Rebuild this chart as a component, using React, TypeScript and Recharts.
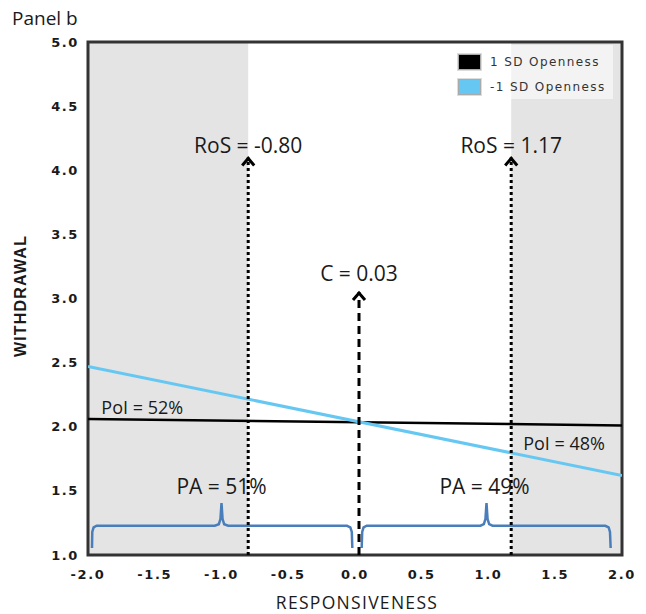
import React from "react";
import {
  ComposedChart,
  Line,
  XAxis,
  YAxis,
  ReferenceArea,
  ReferenceLine,
  ReferenceDot,
  Legend,
} from "recharts";

// ---- data ----
const xTicks = [-2.0, -1.5, -1.0, -0.5, 0.0, 0.5, 1.0, 1.5, 2.0];
const yTicks = [1.0, 1.5, 2.0, 2.5, 3.0, 3.5, 4.0, 4.5, 5.0];

const seriesNames = ["1 SD Openness", "-1 SD Openness"];
const seriesColors = ["#000000", "#66c8f2"];

const highOpenness = [
  { x: -2.0, y: 2.06 },
  { x: 2.0, y: 2.01 },
];
const lowOpenness = [
  { x: -2.0, y: 2.47 },
  { x: 2.0, y: 1.62 },
];

const rosLow = -0.8;
const rosHigh = 1.17;
const crossover = 0.03;
const rosTop = 4.1;
const crossTop = 3.05;

const braceLeft = [
  { x: -1.97, y: 1.055 },
  { x: -1.968, y: 1.18 },
  { x: -1.958, y: 1.215 },
  { x: -1.935, y: 1.228 },
  { x: -1.05, y: 1.228 },
  { x: -1.02, y: 1.24 },
  { x: -1.008, y: 1.28 },
  { x: -1.0, y: 1.405 },
  { x: -0.992, y: 1.28 },
  { x: -0.98, y: 1.24 },
  { x: -0.95, y: 1.228 },
  { x: -0.06, y: 1.228 },
  { x: -0.035, y: 1.215 },
  { x: -0.024, y: 1.18 },
  { x: -0.02, y: 1.055 },
];
const braceRight = [
  { x: 0.05, y: 1.055 },
  { x: 0.054, y: 1.18 },
  { x: 0.064, y: 1.215 },
  { x: 0.088, y: 1.228 },
  { x: 0.94, y: 1.228 },
  { x: 0.965, y: 1.24 },
  { x: 0.977, y: 1.28 },
  { x: 0.985, y: 1.405 },
  { x: 0.993, y: 1.28 },
  { x: 1.005, y: 1.24 },
  { x: 1.03, y: 1.228 },
  { x: 1.875, y: 1.228 },
  { x: 1.9, y: 1.215 },
  { x: 1.91, y: 1.18 },
  { x: 1.915, y: 1.055 },
];

const bigLabels = [
  { x: rosLow, y: 4.2, text: "RoS = -0.80" },
  { x: rosHigh, y: 4.2, text: "RoS = 1.17" },
  { x: crossover, y: 3.2, text: "C = 0.03" },
  { x: -1.0, y: 1.54, text: "PA = 51%" },
  { x: 0.97, y: 1.54, text: "PA = 49%" },
];
const poiLabels = [
  { x: -1.9, y: 2.155, text: "PoI = 52%" },
  { x: 1.26, y: 1.875, text: "PoI = 48%" },
];

const LABEL_FONT = "'Open Sans', 'Noto Sans', sans-serif";
const TICK_FONT = "'DejaVu Sans', Verdana, sans-serif";

const makeText =
  (text: string, size: number, anchor: "middle" | "start") =>
  (props: any) =>
    (
      <text
        x={props.cx}
        y={props.cy}
        textAnchor={anchor}
        dominantBaseline="central"
        fontFamily={LABEL_FONT}
        fontSize={size}
        fill="#1a1a1a"
      >
        {text}
      </text>
    );

const arrowHead = (props: any) => (
  <path
    d={`M${props.cx - 6},${props.cy + 8} L${props.cx},${props.cy + 1} L${props.cx + 6},${props.cy + 8}`}
    fill="none"
    stroke="#000"
    strokeWidth={3}
  />
);

const LegendBox = () => (
  <div
    style={{
      width: 160,
      height: 54,
      background: "rgba(255,255,255,0.55)",
      boxSizing: "border-box",
      paddingTop: 6,
      paddingLeft: 5,
    }}
  >
    {seriesNames.map((n, i) => (
      <div
        key={n}
        style={{ display: "flex", alignItems: "center", height: 22, marginBottom: 3 }}
      >
        <div
          style={{
            width: 21,
            height: 14,
            background: seriesColors[i],
            border: "1px solid #aaa",
            outline: "1px solid #ddd",
            marginRight: 9,
          }}
        />
        <span
          style={{
            fontFamily: TICK_FONT,
            fontSize: 12,
            letterSpacing: 1.4,
            color: "#333",
            whiteSpace: "nowrap",
          }}
        >
          {n}
        </span>
      </div>
    ))}
  </div>
);

const tickStyle = {
  fontFamily: TICK_FONT,
  fontSize: 13,
  fontWeight: "bold",
  fill: "#1a1a1a",
  letterSpacing: 1.6,
};

export default function App() {
  return (
    <div style={{ position: "fixed", left: 0, top: 0, width: 646, height: 614, background: "#fff" }}>
      <div
        style={{
          position: "absolute",
          left: 12,
          top: 5,
          fontFamily: LABEL_FONT,
          fontSize: 19,
          color: "#1a1a1a",
        }}
      >
        Panel b
      </div>
      <ComposedChart
        width={646}
        height={614}
        margin={{ top: 42, right: 24, bottom: 29, left: 48 }}
        style={{ position: "absolute", left: 0, top: 0 }}
      >
        <XAxis
          type="number"
          dataKey="x"
          domain={[-2, 2]}
          ticks={xTicks}
          allowDataOverflow
          tickFormatter={(v: number) => v.toFixed(1)}
          axisLine={false}
          tickLine={false}
          tickSize={6}
          tickMargin={9}
          height={30}
          tick={tickStyle}
        />
        <YAxis
          type="number"
          dataKey="y"
          domain={[1, 5]}
          ticks={yTicks}
          allowDataOverflow
          tickFormatter={(v: number) => v.toFixed(1)}
          axisLine={false}
          tickLine={false}
          tickSize={6}
          tickMargin={3}
          width={40}
          tick={tickStyle}
        />
        <ReferenceArea x1={-2} x2={rosLow} y1={1} y2={5} fill="#e4e4e4" fillOpacity={1} stroke="none" />
        <ReferenceArea x1={rosHigh} x2={2} y1={1} y2={5} fill="#e4e4e4" fillOpacity={1} stroke="none" />

        <Line
          data={highOpenness}
          dataKey="y"
          name={seriesNames[0]}
          stroke={seriesColors[0]}
          strokeWidth={2.5}
          dot={false}
          isAnimationActive={false}
        />
        <Line
          data={lowOpenness}
          dataKey="y"
          name={seriesNames[1]}
          stroke={seriesColors[1]}
          strokeWidth={3}
          dot={false}
          isAnimationActive={false}
        />
        <Line
          data={braceLeft}
          dataKey="y"
          stroke="#4a7ebb"
          strokeWidth={2.5}
          dot={false}
          legendType="none"
          isAnimationActive={false}
        />
        <Line
          data={braceRight}
          dataKey="y"
          stroke="#4a7ebb"
          strokeWidth={2.5}
          dot={false}
          legendType="none"
          isAnimationActive={false}
        />

        <ReferenceLine
          segment={[{ x: rosLow, y: 1 }, { x: rosLow, y: rosTop }]}
          stroke="#000"
          strokeWidth={3}
          strokeDasharray="3 3"
        />
        <ReferenceLine
          segment={[{ x: rosHigh, y: 1 }, { x: rosHigh, y: rosTop }]}
          stroke="#000"
          strokeWidth={3}
          strokeDasharray="3 3"
        />
        <ReferenceLine
          segment={[{ x: crossover, y: 1 }, { x: crossover, y: crossTop }]}
          stroke="#000"
          strokeWidth={3}
          strokeDasharray="8 5"
        />
        <ReferenceDot x={rosLow} y={rosTop} shape={arrowHead} />
        <ReferenceDot x={rosHigh} y={rosTop} shape={arrowHead} />
        <ReferenceDot x={crossover} y={crossTop} shape={arrowHead} />

        {bigLabels.map((l) => (
          <ReferenceDot key={l.text} x={l.x} y={l.y} shape={makeText(l.text, 21, "middle")} />
        ))}
        {poiLabels.map((l) => (
          <ReferenceDot key={l.text} x={l.x} y={l.y} shape={makeText(l.text, 18, "start")} />
        ))}

        <ReferenceArea x1={-2} x2={2} y1={1} y2={5} fill="none" stroke="#333" strokeWidth={3} />

        <Legend
          layout="vertical"
          align="center"
          verticalAlign="middle"
          content={() => <LegendBox />}
          wrapperStyle={{ position: "absolute", left: 453, top: 45, width: 160, height: 54 }}
        />
      </ComposedChart>
      <div
        style={{
          position: "absolute",
          left: 357,
          top: 602,
          transform: "translate(-50%, -50%)",
          fontFamily: LABEL_FONT,
          fontSize: 17.5,
          letterSpacing: 1.3,
          color: "#1a1a1a",
          whiteSpace: "nowrap",
        }}
      >
        RESPONSIVENESS
      </div>
      <div
        style={{
          position: "absolute",
          left: 21,
          top: 296,
          transform: "translate(-50%, -50%) rotate(-90deg)",
          fontFamily: "'Liberation Sans', Arial, sans-serif",
          fontWeight: "bold",
          fontSize: 16,
          letterSpacing: 1.2,
          color: "#1a1a1a",
          whiteSpace: "nowrap",
        }}
      >
        WITHDRAWAL
      </div>
    </div>
  );
}
